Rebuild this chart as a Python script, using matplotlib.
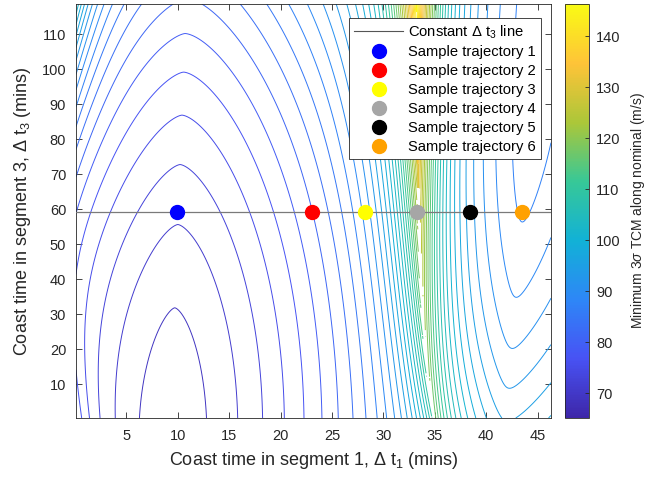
import numpy as np
import matplotlib
matplotlib.use('Agg')
import matplotlib.pyplot as plt
from matplotlib.colors import LinearSegmentedColormap, Normalize
from matplotlib.lines import Line2D

plt.rcParams['font.family'] = ['Liberation Sans', 'DejaVu Sans']
plt.rcParams['mathtext.fontset'] = 'custom'
plt.rcParams['mathtext.rm'] = 'Liberation Sans'
plt.rcParams['mathtext.it'] = 'Liberation Sans:italic'
plt.rcParams['mathtext.default'] = 'regular'

##-- data --##
traj_dt1 = [9.9, 23.1, 28.2, 33.3, 38.4, 43.5]     #--coast time seg 1 of the sample points
dt3_const = 59.2                                   #--constant dt3 line
traj_labels = ['Sample trajectory %d' % (i + 1) for i in range(6)]
traj_colors = ['#0000ff', '#ff0000', '#ffff00', '#a6a6a6', '#000000', '#ffa100']

dt1_range = [0.1, 46.3]
dt3_range = [0.3, 118.6]
tcm_range = [65.1, 146.3]              #--colorbar limits
levels = np.arange(67, 147, 2)        #--contour levels (m/s)
cbar_ticks = [70, 80, 90, 100, 110, 120, 130, 140]
xticks = [5, 10, 15, 20, 25, 30, 35, 40, 45]
yticks = [10, 20, 30, 40, 50, 60, 70, 80, 90, 100, 110]

#-- parula-like colormap --#
parula = LinearSegmentedColormap.from_list('parula', [
    (0.2422, 0.1504, 0.6603), (0.2810, 0.3228, 0.9579), (0.1786, 0.5289, 0.9682),
    (0.0689, 0.6948, 0.8394), (0.2161, 0.7843, 0.5923), (0.6720, 0.7793, 0.2227),
    (0.9970, 0.7659, 0.2199), (0.9769, 0.9839, 0.0805)], N=256)


##-- rebuilt TCM surface (fitted by eye to the contours) --##
def tcm_surface(X, Y):
    xd = 33.2 + 1.7 * np.exp(-Y / 30.0)        #--jump line of the ridge
    # left basin (minimum near dt1 ~ 9, bottom)
    xc = 9.3 + 0.0127 * Y
    c = 2.0 / 2550.0
    VL = 69 + c * ((Y + 10) ** 2 - 1764 + 252 * np.abs(X - xc) ** 1.5)
    VL += (6 * np.exp(-Y / 25.0) + 16 * (Y / 118.0) ** 4) * np.exp(-X / 2.0)
    VL += (17 + 0.23 * Y) * np.exp(-(xd - X) / 2.26)
    # right basin (minimum up top right)
    w = X - (41.75 + 0.0287 * Y)
    VR = 84.9 + 4.1 * ((130 - Y) / 100.0) ** 3 + 0.8 * (np.sqrt(w ** 2 + 0.36) - 0.6)
    VR += (20 + 0.27 * Y) * np.exp(-(X - xd) / 2.3)
    Z = np.where(X < xd, VL, VR)
    Z = np.where((np.abs(X - xd) < 0.12) & (Y < 66), np.nan, Z)   #--no solutions on the jump
    return Z


x = np.linspace(dt1_range[0], dt1_range[1], 925)
y = np.linspace(dt3_range[0], dt3_range[1], 474)
X, Y = np.meshgrid(x, y)
Z = tcm_surface(X, Y)

norm = Normalize(vmin=tcm_range[0], vmax=tcm_range[1])

fig = plt.figure(figsize=(6.46, 4.80), dpi=100)
ax = fig.add_axes([0.1176, 0.1292, 0.7353, 0.8625])
cax = fig.add_axes([0.8746, 0.1292, 0.0372, 0.8625])

ax.contour(X, Y, np.ma.masked_invalid(Z), levels=levels, cmap=parula, norm=norm, linewidths=0.7)

ax.axhline(dt3_const, color='#7a7a7a', linewidth=0.9, zorder=3)
for xi, lab, col in zip(traj_dt1, traj_labels, traj_colors):
    ax.plot(xi, dt3_const, 'o', color=col, markersize=10, zorder=4)

ax.set_xlim(dt1_range)
ax.set_ylim(dt3_range)
ax.set_xticks(xticks)
ax.set_yticks(yticks)
ax.tick_params(direction='in', length=4, width=0.6, top=True, right=True,
               labelsize=10.5, colors='#262626')
ax.tick_params(axis='x', pad=8)
ax.tick_params(axis='y', pad=7)
for s in ax.spines.values():
    s.set_color('#262626')
    s.set_linewidth(0.6)

ax.set_xlabel('Coast time in segment 1, Δ t$_1$ (mins)', fontsize=13, color='#262626', labelpad=5)
ax.set_ylabel('Coast time in segment 3, Δ t$_3$ (mins)', fontsize=13, color='#262626', labelpad=6)

#-- legend --#
handles = [Line2D([], [], color='#555555', linewidth=0.8)]
handles += [Line2D([], [], linestyle='none', marker='o', markersize=10, color=col) for col in traj_colors]
leg = ax.legend(handles, ['Constant Δ t$_3$ line'] + traj_labels, loc='upper right',
                bbox_to_anchor=(0.979, 0.966), fontsize=10.6, fancybox=False, framealpha=1,
                edgecolor='#262626', handlelength=3.3, handletextpad=0.35,
                labelspacing=0.33, borderpad=0.35, borderaxespad=0)
leg.get_frame().set_linewidth(0.6)

#-- colorbar --#
sm = plt.cm.ScalarMappable(cmap=parula, norm=norm)
cbar = fig.colorbar(sm, cax=cax, ticks=cbar_ticks)
cbar.ax.tick_params(direction='in', length=3, width=0.6, labelsize=10.5, colors='#262626', pad=5)
cbar.outline.set_edgecolor('#262626')
cbar.outline.set_linewidth(0.6)
cbar.set_label('Minimum 3$\\it{\\sigma}$ TCM along nominal (m/s)', fontsize=10, color='#262626', labelpad=6)

fig.savefig('out.png', dpi=100)
